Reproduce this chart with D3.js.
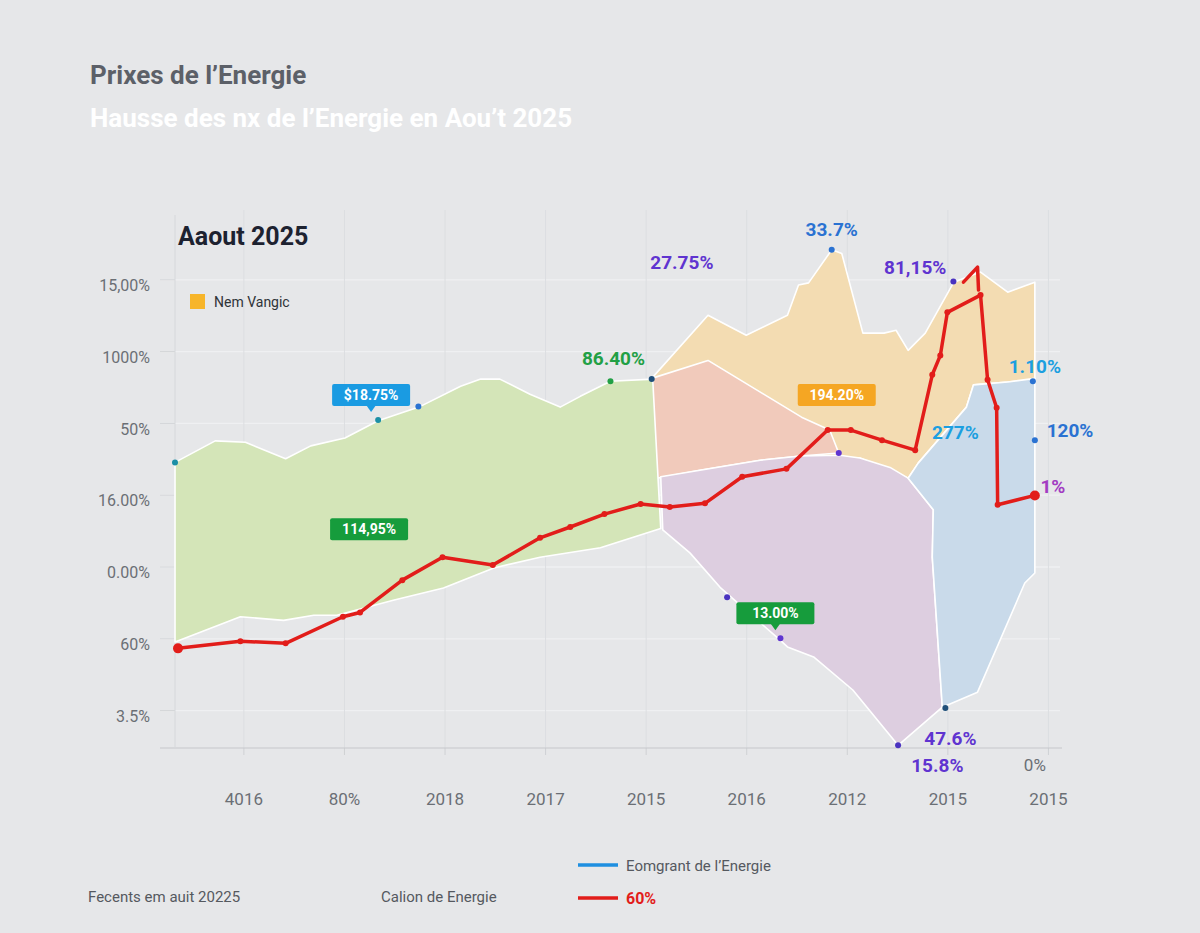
<!DOCTYPE html>
<html>
<head>
<meta charset="utf-8">
<script src="https://cdn.jsdelivr.net/npm/d3@7"></script>
<style>
  body { margin: 0; background: #e6e7e9; }
  svg { display: block; font-family: Roboto, "Open Sans", sans-serif; }
</style>
</head>
<body>
<svg id="chart" width="1200" height="933"></svg>
<script>
// tick labels, as printed on the chart
const xTickLabels = ['4016', '80%', '2018', '2017', '2015', '2016', '2012', '2015', '2015'];
const yTickLabels = ['3.5%', '60%', '0.00%', '16.00%', '50%', '1000%', '15,00%'];

// red series [x, y]
const redLine = [
  [-0.65, 8.6], [-0.03, 9.6], [0.42, 9.3], [0.99, 13.0], [1.16, 13.6], [1.58, 18.1],
  [1.98, 21.3], [2.48, 20.2], [2.95, 24.0], [3.25, 25.5], [3.59, 27.3], [3.95, 28.7],
  [4.24, 28.3], [4.59, 28.8], [4.96, 32.5], [5.40, 33.6], [5.81, 39.0], [6.04, 39.0],
  [6.35, 37.6], [6.68, 36.2], [6.85, 46.7], [6.93, 49.4], [7.00, 55.4], [7.33, 57.8],
  [7.40, 46.0], [7.49, 42.1], [7.50, 28.6], [7.87, 29.9]
];
const redSpike = [[7.16, 59.6], [7.30, 61.7], [7.31, 58.5]];

// filled regions, outlines as [x, y]
const greenArea = [
  [-0.68, 34.5], [-0.28, 37.5], [0.02, 37.3], [0.42, 35.0], [0.67, 36.8], [1.01, 37.9],
  [1.34, 40.3], [1.76, 42.3], [2.16, 45.1], [2.36, 46.1], [2.55, 46.1], [2.85, 44.0],
  [3.15, 42.2], [3.35, 43.7], [3.65, 45.8], [4.07, 46.1],
  [4.15, 25.3], [3.55, 22.6], [2.95, 21.3], [2.49, 19.8], [1.99, 17.0], [1.49, 15.3],
  [0.93, 13.2], [0.70, 13.2], [0.40, 12.5], [-0.03, 13.0], [-0.68, 9.5]
];
const orangeArea = [
  [4.06, 46.2], [4.62, 55.0], [5.00, 52.2], [5.41, 55.0], [5.52, 59.2], [5.62, 59.5],
  [5.85, 64.1], [5.95, 63.6], [6.16, 52.5], [6.37, 52.5], [6.49, 52.9], [6.61, 50.1],
  [6.78, 52.5], [7.06, 59.5], [7.12, 59.9], [7.33, 61.0], [7.60, 58.2], [7.87, 59.6],
  [7.87, 46.0], [7.60, 45.7], [7.26, 45.3], [7.19, 42.2], [6.71, 34.4], [6.61, 32.3],
  [6.13, 35.1], [5.54, 35.4], [5.14, 34.8], [4.54, 33.4], [4.15, 32.5]
];
const pinkArea = [
  [4.06, 46.2], [4.62, 48.7], [5.55, 40.8], [5.83, 39.0], [5.92, 35.8],
  [5.54, 35.4], [5.14, 34.8], [4.54, 33.4], [4.11, 32.3]
];
const lavenderArea = [
  [4.15, 32.5], [4.54, 33.4], [5.14, 34.8], [5.54, 35.4], [5.93, 35.5], [6.13, 35.1],
  [6.43, 33.8], [6.61, 32.3], [6.86, 27.9], [6.85, 21.3], [6.95, 0.4], [6.51, -4.9],
  [6.06, 2.8], [5.67, 7.4], [5.41, 8.8], [5.34, 9.7], [4.74, 17.1], [4.44, 21.9], [4.17, 25.1]
];
const blueArea = [
  [6.61, 32.3], [6.71, 34.4], [7.19, 42.2], [7.26, 45.3], [7.60, 45.7], [7.87, 46.2],
  [7.87, 19.1], [7.77, 17.7], [7.30, 2.5], [6.95, 0.4], [6.85, 21.3], [6.86, 27.9]
];

// marker dots [x, y, group]
const dots = [
  [-0.68, 34.5, 'teal'], [1.34, 40.4, 'teal'], [1.74, 42.3, 'blue'], [3.65, 45.8, 'green'],
  [4.06, 46.1, 'navy'], [5.85, 64.1, 'blue'], [7.06, 59.7, 'indigo'], [7.85, 45.8, 'blue'],
  [7.87, 37.6, 'blue'], [5.92, 35.8, 'purple'], [4.81, 15.7, 'indigo'], [5.34, 10.0, 'purple'],
  [6.51, -4.9, 'indigo'], [6.98, 0.3, 'navy']
];

// annotations [text, x, y, kind]
const notes = [
  ['86.40%', 3.68, 49.0, 'green'],
  ['27.75%', 4.36, 62.3, 'purple'],
  ['33.7%', 5.85, 67.0, 'blue'],
  ['81,15%', 6.68, 61.6, 'purple'],
  ['1.10%', 7.87, 47.8, 'sky'],
  ['277%', 7.08, 38.7, 'sky'],
  ['120%', 8.22, 38.9, 'blue'],
  ['1%', 8.05, 31.1, 'magenta'],
  ['47.6%', 7.03, -3.9, 'purple'],
  ['15.8%', 6.90, -7.7, 'purple'],
  ['0%', 7.87, -7.7, 'gray']
];
const boxes = [
  ['$18.75%', 1.27, 43.9, 'boxBlue', true],
  ['194.20%', 5.90, 43.9, 'boxOrange', false],
  ['114,95%', 1.25, 25.2, 'boxGreen', false],
  ['13.00%', 5.29, 13.5, 'boxGreen', true]
];

const colors = {
  green: '#22a045', purple: '#5f34d0', blue: '#2a72d2', sky: '#1c9fe0', magenta: '#a23cc2',
  gray: '#6b6f75', teal: '#1b8fa6', navy: '#1f4f7a', indigo: '#4a33c0',
  boxBlue: '#1a9be2', boxOrange: '#f5a623', boxGreen: '#169c3c'
};

const svg = d3.select('#chart');

const x = d3.scaleLinear().domain([-0.68, 8.12]).range([175, 1060]);
const y = d3.scaleLinear().domain([-5, 70]).range([746, 207.5]);

// titles
svg.append('text').attr('x', 90).attr('y', 84)
  .style('font-size', '26px').style('font-weight', 700).style('fill', '#5c6068')
  .text('Prixes de l’Energie');
svg.append('text').attr('x', 90).attr('y', 127)
  .style('font-size', '26px').style('font-weight', 700).style('fill', '#ffffff')
  .text('Hausse des nx de l’Energie en Aou’t 2025');

// grid + axes
const yAxis = svg.append('g').attr('transform', 'translate(160,0)')
  .call(d3.axisLeft(y).tickValues(d3.range(0, 61, 10))
    .tickFormat((d, i) => yTickLabels[i]).tickSizeInner(-900).tickSizeOuter(0).tickPadding(10));
yAxis.select('.domain').remove();
yAxis.selectAll('line').attr('stroke', '#eff0f2').attr('stroke-width', 1.3);
yAxis.selectAll('text').attr('dy', '0.7em')
  .style('font-size', '16px').style('fill', '#6b6f75').style('font-family', 'Roboto, sans-serif');

// short darker stubs at the left end of each y gridline
svg.append('g').attr('transform', 'translate(175,0)')
  .call(d3.axisLeft(y).tickValues(d3.range(0, 61, 10)).tickFormat('').tickSize(15))
  .call(g => g.select('.domain').remove())
  .selectAll('line').attr('stroke', '#d2d4d7');

const xAxis = svg.append('g').attr('transform', 'translate(0,748)')
  .call(d3.axisBottom(x).tickValues(d3.range(0, 9))
    .tickFormat((d, i) => xTickLabels[i]).tickSizeInner(-538).tickSizeOuter(0).tickPadding(45));
xAxis.select('.domain').remove();
xAxis.selectAll('line').attr('stroke', '#dcdee1');
xAxis.selectAll('text')
  .style('font-size', '17px').style('fill', '#6b6f75').style('font-family', 'Roboto, sans-serif');

svg.append('g').attr('transform', 'translate(0,748)')
  .call(d3.axisBottom(x).tickValues(d3.range(0, 9)).tickFormat('').tickSize(7))
  .call(g => g.select('.domain').remove())
  .selectAll('line').attr('stroke', '#cfd1d4');

svg.append('line').attr('x1', 160).attr('x2', 1062).attr('y1', 748).attr('y2', 748)
  .attr('stroke', '#c6c8cc').attr('stroke-width', 1.2);
svg.append('line').attr('x1', x(-0.68)).attr('x2', x(-0.68)).attr('y1', 215).attr('y2', 748)
  .attr('stroke', '#d6d8db');

// regions
const outline = d3.line().x(d => x(d[0])).y(d => y(d[1])).curve(d3.curveLinearClosed);
const regions = [
  [orangeArea, '#f3dcb2'],
  [pinkArea, '#f1cabb'],
  [lavenderArea, '#ddcee0'],
  [blueArea, '#c9daea'],
  [greenArea, '#d4e5b8']
];
svg.append('g').selectAll('path').data(regions).join('path')
  .attr('d', d => outline(d[0]))
  .attr('fill', d => d[1])
  .attr('stroke', '#ffffff').attr('stroke-width', 1.6).attr('stroke-linejoin', 'round');

// red series
const path = d3.line().x(d => x(d[0])).y(d => y(d[1]));
const red = svg.append('g');
[redLine, redSpike].forEach(s => {
  red.append('path').attr('d', path(s)).attr('fill', 'none')
    .attr('stroke', '#e21d1a').attr('stroke-width', 3.5)
    .attr('stroke-linejoin', 'round').attr('stroke-linecap', 'round');
});
red.selectAll('circle').data(redLine).join('circle')
  .attr('cx', d => x(d[0])).attr('cy', d => y(d[1]))
  .attr('r', (d, i) => (i === 0 || i === redLine.length - 1) ? 5 : 3)
  .attr('fill', '#e21d1a');

// dots
svg.append('g').selectAll('circle').data(dots).join('circle')
  .attr('cx', d => x(d[0])).attr('cy', d => y(d[1])).attr('r', 3)
  .attr('fill', d => colors[d[2]]);

// plain labels
svg.append('g').selectAll('text').data(notes).join('text')
  .attr('x', d => x(d[1])).attr('y', d => y(d[2]))
  .attr('text-anchor', 'middle').attr('dominant-baseline', 'central')
  .style('font-size', d => d[3] === 'gray' ? '17px' : '19px')
  .style('font-weight', d => d[3] === 'gray' ? 400 : 700)
  .style('fill', d => colors[d[3]])
  .text(d => d[0]);

// callout boxes
const bx = svg.append('g').selectAll('g').data(boxes).join('g')
  .attr('transform', d => `translate(${x(d[1])},${y(d[2])})`);
bx.append('rect')
  .attr('x', -39).attr('y', -11).attr('width', 78).attr('height', 22).attr('rx', 2)
  .attr('fill', d => colors[d[3]]);
bx.filter(d => d[4]).append('path')
  .attr('d', 'M-5,10 L0,17 L5,10 Z')
  .attr('fill', d => colors[d[3]]);
bx.append('text')
  .attr('text-anchor', 'middle').attr('dominant-baseline', 'central')
  .style('font-size', '14px').style('font-weight', 700).style('fill', '#ffffff')
  .text(d => d[0]);

// inner heading and legend
svg.append('text').attr('x', 178).attr('y', 245)
  .style('font-size', '25px').style('font-weight', 700).style('fill', '#1d2230')
  .text('Aaout 2025');
svg.append('rect').attr('x', 190).attr('y', 294).attr('width', 15).attr('height', 15)
  .attr('fill', '#f7b52a');
svg.append('text').attr('x', 214).attr('y', 307)
  .style('font-size', '14px').style('fill', '#2f3338').text('Nem Vangic');

// footer legend
const foot = svg.append('g').style('font-size', '15px').style('fill', '#55595f');
foot.append('text').attr('x', 88).attr('y', 902).text('Fecents em auit 20225');
foot.append('text').attr('x', 381).attr('y', 902).text('Calion de Energie');
foot.append('line').attr('x1', 578).attr('x2', 618).attr('y1', 865).attr('y2', 865)
  .attr('stroke', '#1e8fe0').attr('stroke-width', 3.5);
foot.append('text').attr('x', 626).attr('y', 871).text('Eomgrant de l’Energie');
foot.append('line').attr('x1', 578).attr('x2', 618).attr('y1', 898).attr('y2', 898)
  .attr('stroke', '#e21d1a').attr('stroke-width', 3.5);
foot.append('text').attr('x', 626).attr('y', 904)
  .style('fill', '#e21d1a').style('font-weight', 700).style('font-size', '16px').text('60%');
</script>
</body>
</html>
